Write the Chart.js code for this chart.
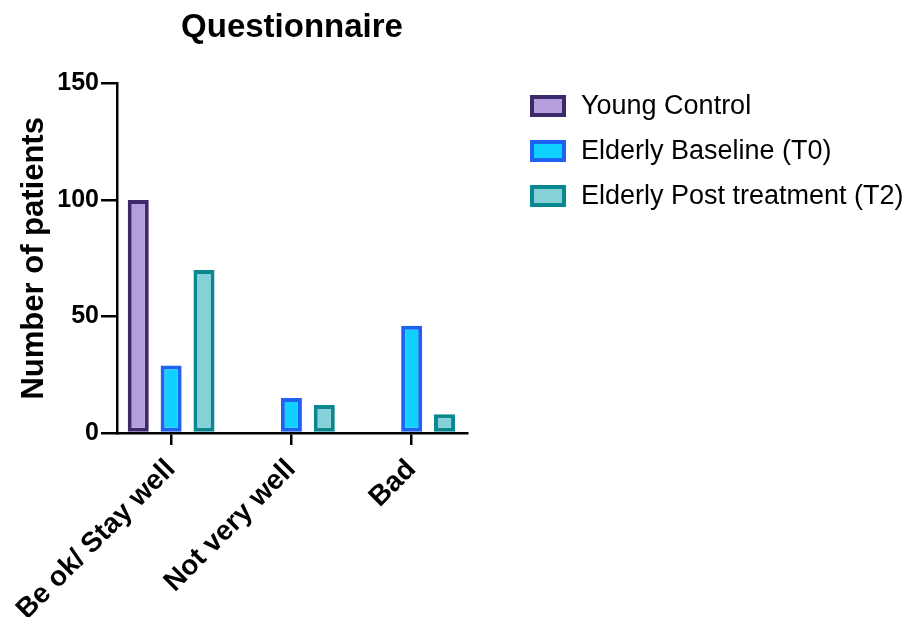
<!DOCTYPE html>
<html>
<head>
<meta charset="utf-8">
<script src="https://cdn.jsdelivr.net/npm/chart.js@4.4.1/dist/chart.umd.min.js"></script>
<style>
  html, body { margin: 0; padding: 0; background: #ffffff; }
  #wrap { width: 908px; height: 617px; position: relative; }
</style>
</head>
<body>
<div id="wrap"><canvas id="c" width="908" height="617"></canvas></div>
<script>
// ---- data ----
const categories = ["Be ok/ Stay well", "Not very well", "Bad"];
const seriesNames = ["Young Control", "Elderly Baseline (T0)", "Elderly Post treatment (T2)"];
const youngControl = [100, 0, 0];
const elderlyBaseline = [29, 15, 46];
const elderlyPost = [70, 12, 8];
const yTicks = [0, 50, 100, 150];
const chartTitle = "Questionnaire";
const yAxisTitle = "Number of patients";

// ---- styles ----
const fills = ["#B49EDB", "#10D0FF", "#85D1D8"];
const borders = ["#3B2A6C", "#1D62F2", "#0A878F"];
const FONT = "'Liberation Sans', Arial, Helvetica, sans-serif";

const legendPlugin = {
  id: 'customLegend',
  afterDraw(chart) {
    const ctx = chart.ctx;
    ctx.save();
    chart.data.datasets.forEach((ds, i) => {
      const cy = 106 + i * 45;
      const bx = 530, bw = 36, bh = 22;
      ctx.fillStyle = ds.backgroundColor;
      ctx.fillRect(bx, cy - bh / 2, bw, bh);
      ctx.strokeStyle = ds.borderColor;
      ctx.lineWidth = 4;
      ctx.strokeRect(bx + 2, cy - bh / 2 + 2, bw - 4, bh - 4);
      ctx.fillStyle = "#000";
      ctx.font = "27px " + FONT;
      ctx.textAlign = "left";
      ctx.textBaseline = "middle";
      ctx.fillText(ds.label, 581, cy + 1);
    });
    ctx.restore();
  }
};

const values = [youngControl, elderlyBaseline, elderlyPost];

new Chart(document.getElementById('c'), {
  type: 'bar',
  data: {
    labels: categories,
    datasets: seriesNames.map((name, i) => ({
      label: name,
      data: values[i].map((v, j) => ({ x: j, y: v })),
      backgroundColor: fills[i],
      borderColor: borders[i],
      borderWidth: 4,
      borderSkipped: false,
      categoryPercentage: 0.82,
      barPercentage: 0.64
    }))
  },
  options: {
    responsive: false,
    animation: false,
    devicePixelRatio: 1,
    layout: { padding: { left: 0, right: 441, top: 0, bottom: 0 } },
    plugins: {
      legend: { display: false },
      tooltip: { enabled: false },
      title: {
        display: true,
        text: chartTitle,
        fullSize: false,
        color: "#000",
        font: { family: FONT, size: 33, weight: 'bold', lineHeight: 1.2 },
        padding: { top: 8, bottom: 36 }
      }
    },
    scales: {
      x: {
        type: 'linear',
        min: -0.45, max: 2.46,
        offset: false,
        afterBuildTicks(scale) { scale.ticks = categories.map((c, j) => ({ value: j })); },
        grid: { offset: false, drawOnChartArea: false, drawTicks: true, tickLength: 12, color: "#000", lineWidth: 2.5 },
        border: { display: true, color: "#000", width: 2.5 },
        ticks: {
          color: "#000",
          font: { family: FONT, size: 28, weight: 'bold' },
          minRotation: 45, maxRotation: 45,
          padding: 8,
          autoSkip: false,
          callback: (v) => categories[v]
        },
        afterFit(scale) { scale.height = 184; scale.paddingLeft = 0; scale.paddingRight = 0; }
      },
      y: {
        min: 0, max: 150,
        afterBuildTicks(scale) { scale.ticks = yTicks.map(v => ({ value: v })); },
        grid: { drawOnChartArea: false, drawTicks: true, tickLength: 16, color: "#000", lineWidth: 2.5 },
        border: { display: true, color: "#000", width: 2.5 },
        ticks: {
          color: "#000",
          font: { family: FONT, size: 25, weight: 'bold' },
          padding: 2
        },
        title: {
          display: true,
          text: yAxisTitle,
          color: "#000",
          font: { family: FONT, size: 31, weight: 'bold', lineHeight: 1.2 },
          padding: { top: 16, bottom: 0 }
        },
        afterFit(scale) { scale.width = 117; }
      }
    }
  },
  plugins: [legendPlugin]
});
</script>
</body>
</html>
